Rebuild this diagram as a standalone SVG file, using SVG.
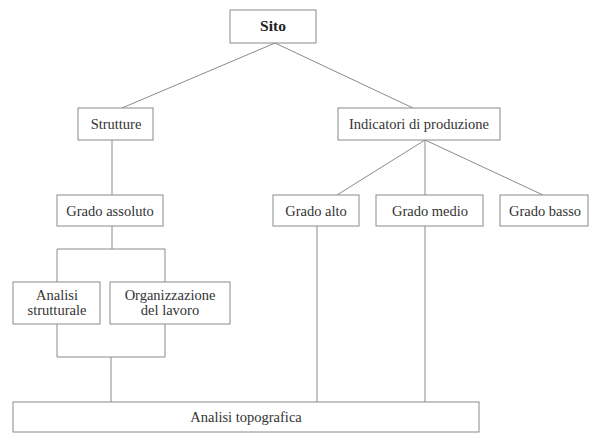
<svg xmlns="http://www.w3.org/2000/svg" width="591" height="434" viewBox="0 0 591 434">
<style>
.box{fill:#fff;stroke:#8a8a8a;stroke-width:1}
.t{font-family:"Liberation Serif","Times New Roman",serif;font-size:14.5px;fill:#333;text-anchor:middle}
.b{font-weight:bold;font-size:15.5px;fill:#222}
#connectors line,#connectors polyline{stroke:#8a8a8a;stroke-width:1;fill:none}
</style>
<rect width="591" height="434" fill="#fff"/>
<g id="connectors">
<line x1="275" y1="43" x2="122" y2="108"/>
<line x1="275" y1="43" x2="413" y2="108"/>
<line x1="112" y1="140" x2="112" y2="195"/>
<line x1="425" y1="140" x2="337" y2="195"/>
<line x1="425" y1="140" x2="425" y2="195"/>
<line x1="425" y1="140" x2="543" y2="195"/>
<line x1="112" y1="226" x2="112" y2="249"/>
<polyline points="57,282 57,249 165,249 165,282"/>
<polyline points="57,324 57,357 165,357 165,324"/>
<line x1="111" y1="357" x2="111" y2="402"/>
<line x1="317" y1="226" x2="317" y2="402"/>
<line x1="425" y1="226" x2="425" y2="402"/>
</g>
<g id="sito"><rect class="box" x="230" y="10" width="86" height="33"/><text class="t b" x="273" y="31">Sito</text></g>
<g id="strutture"><rect class="box" x="78" y="108" width="75" height="32"/><text class="t" x="116" y="129">Strutture</text></g>
<g id="indicatori"><rect class="box" x="338" y="108" width="162" height="32"/><text class="t" x="419" y="129">Indicatori di produzione</text></g>
<g id="grado-assoluto"><rect class="box" x="57" y="195" width="106" height="31"/><text class="t" x="110" y="216">Grado assoluto</text></g>
<g id="grado-alto"><rect class="box" x="273" y="195" width="86" height="31"/><text class="t" x="316" y="216">Grado alto</text></g>
<g id="grado-medio"><rect class="box" x="376" y="195" width="107" height="31"/><text class="t" x="430" y="216">Grado medio</text></g>
<g id="grado-basso"><rect class="box" x="500" y="195" width="88" height="31"/><text class="t" x="545" y="216">Grado basso</text></g>
<g id="analisi-strutturale"><rect class="box" x="13" y="282" width="87" height="42"/><text class="t" x="57" y="300">Analisi</text><text class="t" x="57" y="315">strutturale</text></g>
<g id="organizzazione"><rect class="box" x="110" y="282" width="120" height="42"/><text class="t" x="170" y="300">Organizzazione</text><text class="t" x="170" y="315">del lavoro</text></g>
<g id="analisi-topografica"><rect class="box" x="13" y="402" width="466" height="30"/><text class="t" x="246" y="422">Analisi topografica</text></g>
</svg>
